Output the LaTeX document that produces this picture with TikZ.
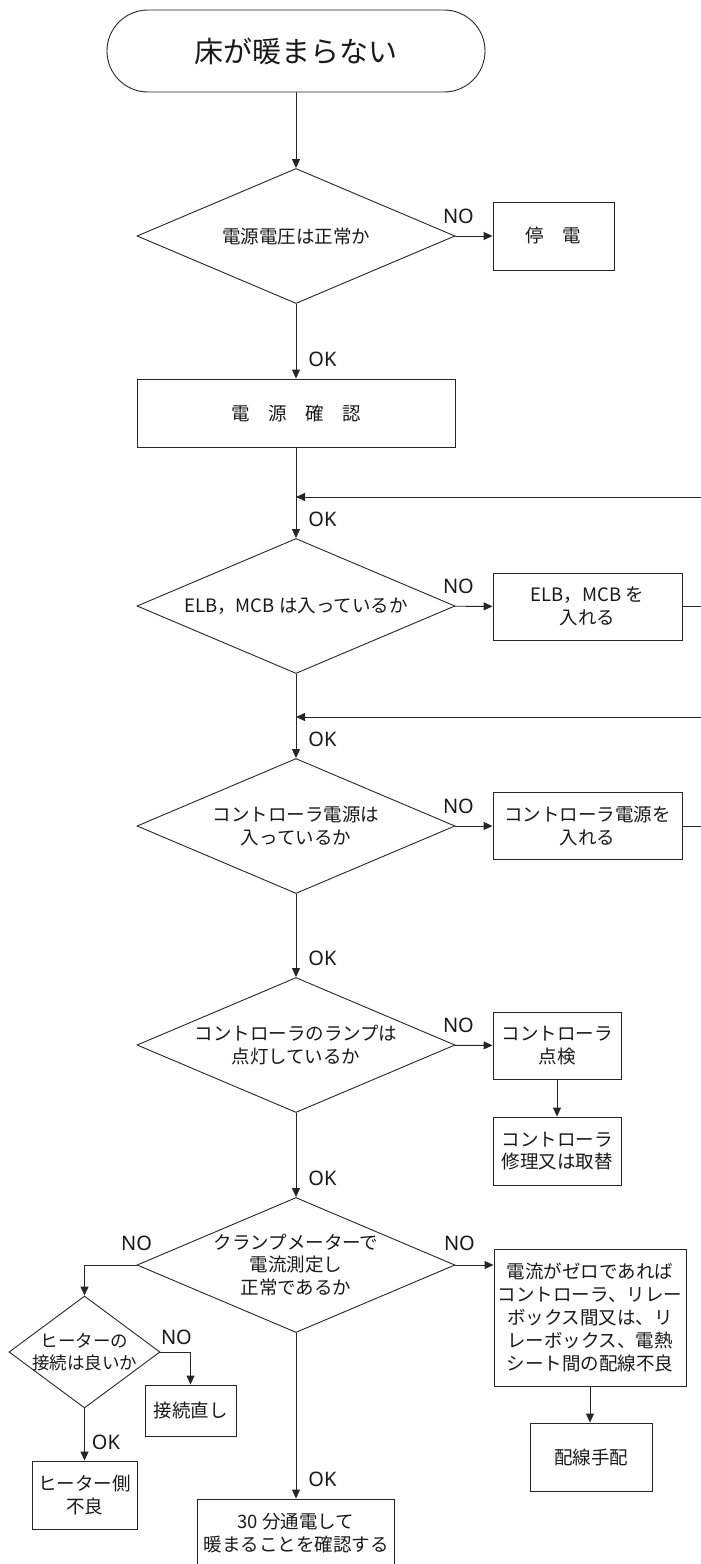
\documentclass[tikz,border=0pt]{standalone}
\usepackage{fontspec}
\setmainfont{Noto Sans CJK JP}
\newfontfamily\lblfont{Noto Sans}
\usetikzlibrary{arrows.meta, positioning, shapes.geometric, calc}

\begin{document}
\begin{tikzpicture}[x=1pt, y=-1pt, line width=0.9pt]
  \tikzset{base/.style={draw=black!85, text=black!90, align=center,
                        font=\fontsize{18.5}{22.5}\selectfont}}
  \tikzset{terminal/.style={base, rectangle, rounded corners=40.9pt,
                        minimum width=378pt, minimum height=82pt,
                        font=\fontsize{29}{34}\selectfont}}
  \tikzset{decision/.style={base, diamond, aspect=2.36, inner sep=-8pt,
                        minimum width=318pt, minimum height=135pt}}
  \tikzset{stepbox/.style={base, rectangle, inner sep=0pt}}
  \tikzset{yn/.style={font=\lblfont\fontsize{20}{22}\selectfont,
                        text=black!90, inner sep=0pt}}
  \tikzset{flow/.style={draw=black!85, -{Triangle[length=9pt, width=8pt]}}}

  \useasboundingbox (0,0) rectangle (701,1564);
  \clip (0,0) rectangle (701,1564);

  % Main column
  \node[terminal] (start) at (296,51) {床が暖まらない};
  \node[decision] (d1) at (296,236) {電源電圧は正常か};
  \node[stepbox, minimum width=318pt, minimum height=68pt] (check) at (296,413) {電　源　確　認};
  \node[decision] (d2) at (296,606) {ELB，MCB は入っているか};
  \node[decision] (d3) at (296,826) {コントローラ電源は\\入っているか};
  \node[decision] (d4) at (296,1045) {コントローラのランプは\\点灯しているか};
  \node[decision] (d5) at (296,1265) {クランプメーターで\\電流測定し\\正常であるか};
  \node[stepbox, minimum width=197pt, minimum height=68pt] (final) at (296,1533) {30 分通電して\\暖まることを確認する};

  % Right column
  \node[stepbox, minimum width=121pt, minimum height=68pt] (outage) at (553.5,236) {停　電};
  \node[stepbox, minimum width=189pt, minimum height=67pt] (elbon) at (587.5,606.5) {ELB，MCB を\\入れる};
  \node[stepbox, minimum width=189pt, minimum height=67pt] (ctlon) at (587.5,826) {コントローラ電源を\\入れる};
  \node[stepbox, minimum width=128pt, minimum height=67pt] (inspect) at (557,1045.5) {コントローラ\\点検};
  \node[stepbox, minimum width=128pt, minimum height=68pt] (repair) at (557,1151) {コントローラ\\修理又は取替};
  \node[stepbox, minimum width=192pt, minimum height=137pt, font=\fontsize{18.5}{23}\selectfont] (wiring) at (590,1317.5)
    {電流がゼロであれば\\コントローラ、リレー\\ボックス間又は、リ\\レーボックス、電熱\\シート間の配線不良};
  \node[stepbox, minimum width=122pt, minimum height=68pt] (arrange) at (591,1457) {配線手配};

  % Heater branch
  \node[decision, aspect=1.35, minimum width=151pt, minimum height=112pt,
        font=\fontsize{17.5}{22}\selectfont] (d6) at (84.5,1352) {ヒーターの\\接続は良いか};
  \node[stepbox, minimum width=91pt, minimum height=51pt] (reconnect) at (190.5,1410.5) {接続直し};
  \node[stepbox, minimum width=105pt, minimum height=68pt] (heater) at (84.5,1495) {ヒーター側\\不良};

  % Junctions of the return lines
  \coordinate (j1) at (296,497);
  \coordinate (j2) at (296,717);

  % Connectors
  \draw[flow] (start) -- (d1);
  \draw[flow] (d1) -- (outage);
  \draw[flow] (d1) -- (check);
  \draw[flow] (check) -- (d2);
  \draw[flow] (d2) -- (elbon);
  \draw[flow] (elbon.east) -- ++(40,0) |- (j1);
  \draw[flow] (d2) -- (d3);
  \draw[flow] (d3) -- (ctlon);
  \draw[flow] (ctlon.east) -- ++(40,0) |- (j2);
  \draw[flow] (d3) -- (d4);
  \draw[flow] (d4) -- (inspect);
  \draw[flow] (inspect) -- (repair);
  \draw[flow] (d4) -- (d5);
  \draw[flow] (d5.east) -- (d5.east -| wiring.west);
  \draw[flow] (wiring.south) -- (wiring.south |- arrange.north);
  \draw[flow] (d5.west) -| (d6.north);
  \draw[flow] (d6.east) -| (reconnect.north);
  \draw[flow] (d6) -- (heater);
  \draw[flow] (d5) -- (final);

  % NO / OK labels
  \foreach \d/\n in {d1/no1, d2/no2, d3/no3, d4/no4}{
    \node[yn] (\n) at ([shift={(3,-20)}]\d.east) {NO};
  }
  \node[yn] (no5) at ([shift={(4,-22)}]d5.east) {NO};
  \node[yn] (no6) at ([shift={(0,-22)}]d5.west) {NO};
  \node[yn] (no7) at ([shift={(16,-15)}]d6.east) {NO};
  \foreach \t/\n in {check/ok1, d2/ok2, d3/ok3, d4/ok4, d5/ok5, final/ok6}{
    \node[yn, anchor=west] (\n) at ([shift={(12,-19)}]\t.north) {OK};
  }
  \node[yn, anchor=west] (ok7) at ([shift={(7,-18)}]heater.north) {OK};
\end{tikzpicture}
\end{document}
